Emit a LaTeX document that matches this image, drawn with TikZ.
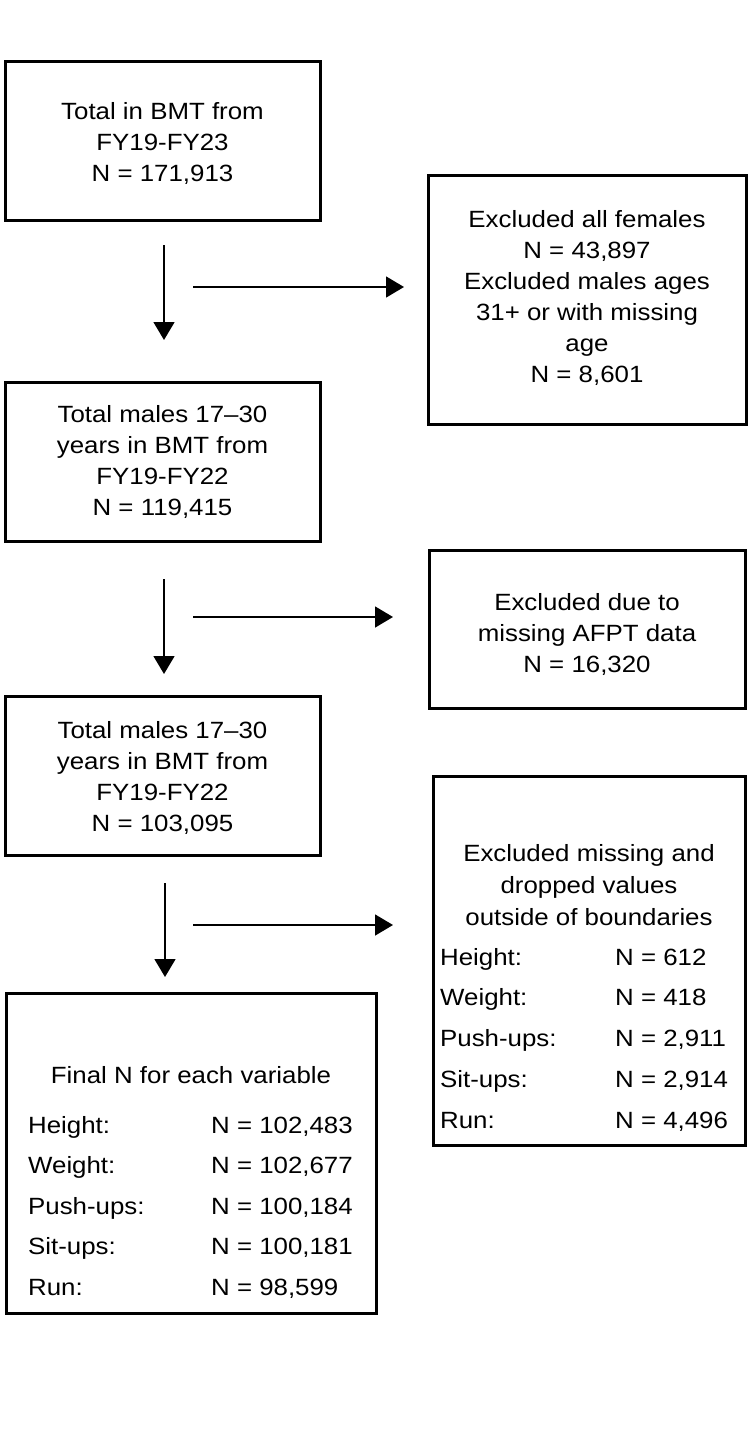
\documentclass[tikz,border=0pt]{standalone}
\usepackage{fontspec}
\setmainfont{Liberation Sans}[FakeStretch=1.1]
\usetikzlibrary{arrows.meta}
\begin{document}
\begin{tikzpicture}[x=1pt,y=-1pt,
  box/.style={draw, line width=3pt, inner sep=0pt, anchor=center},
  txt/.style={align=center, font=\fontsize{23.5}{31}\selectfont, inner sep=0pt},
  rowtxt/.style={anchor=base west, font=\fontsize{23.5}{26}\selectfont, inner sep=0pt},
  arr/.style={line width=1.5pt, -{Triangle[length=18pt,width=21pt]}}]
\useasboundingbox (0,0) rectangle (750,1429);
\fill[white] (0,0) rectangle (750,1429);

% boxes
\node[box, minimum width=315pt, minimum height=158pt] (b1) at (162.5,141) {};
\node[box, minimum width=318pt, minimum height=249pt] (b2) at (587,299.5) {};
\node[box, minimum width=315pt, minimum height=159pt] (b3) at (162.5,461.5) {};
\node[box, minimum width=316pt, minimum height=158pt] (b4) at (587,629) {};
\node[box, minimum width=315pt, minimum height=159pt] (b5) at (162.5,775.5) {};
\node[box, minimum width=312pt, minimum height=369pt] (b6) at (589,960.5) {};
\node[box, minimum width=370pt, minimum height=320pt] (b7) at (191,1153) {};

% texts
\node[txt] (t1) at (162.5,143) {Total in BMT from\\FY19-FY23\\N = 171,913};
\node[txt] (t2) at (587,298) {Excluded all females\\N = 43,897\\Excluded males ages\\31+ or with missing\\age\\N = 8,601};
\node[txt] (t3) at (162.5,462) {Total males 17–30\\years in BMT from\\FY19-FY22\\N = 119,415};
\node[txt] (t4) at (587,634) {Excluded due to\\missing AFPT data\\N = 16,320};
\node[txt] (t5) at (162.5,778) {Total males 17–30\\years in BMT from\\FY19-FY22\\N = 103,095};
\node[txt, font=\fontsize{23.5}{32}\selectfont] (t6) at (589,885) {Excluded missing and\\dropped values\\outside of boundaries};
\node[txt] (t7) at (191,1075) {Final N for each variable};

% excluded rows
\foreach \lab/\val [count=\i from 0] in {Height:/N = 612, Weight:/N = 418, Push-ups:/N = 2{,}911, Sit-ups:/N = 2{,}914, Run:/N = 4{,}496}{
  \node[rowtxt] (el\i) at (440,965+40.75*\i) {\lab};
  \node[rowtxt] (ev\i) at (615,965+40.75*\i) {\val};
}
% final rows
\foreach \lab/\val [count=\i from 0] in {Height:/N = 102{,}483, Weight:/N = 102{,}677, Push-ups:/N = 100{,}184, Sit-ups:/N = 100{,}181, Run:/N = 98{,}599}{
  \node[rowtxt] (fl\i) at (28,1133+40.5*\i) {\lab};
  \node[rowtxt] (fv\i) at (211,1133+40.5*\i) {\val};
}

% arrow end points
\coordinate (v1s) at (164,245);  \coordinate (v1e) at (164,340);
\coordinate (h1s) at (193,287);  \coordinate (h1e) at (404,287);
\coordinate (v2s) at (164,579);  \coordinate (v2e) at (164,674);
\coordinate (h2s) at (193,617);  \coordinate (h2e) at (393,617);
\coordinate (v3s) at (165,883);  \coordinate (v3e) at (165,977);
\coordinate (h3s) at (193,925);  \coordinate (h3e) at (393,925);

\draw[arr] (v1s) -- (v1e);
\draw[arr] (h1s) -- (h1e);
\draw[arr] (v2s) -- (v2e);
\draw[arr] (h2s) -- (h2e);
\draw[arr] (v3s) -- (v3e);
\draw[arr] (h3s) -- (h3e);
\end{tikzpicture}
\end{document}
